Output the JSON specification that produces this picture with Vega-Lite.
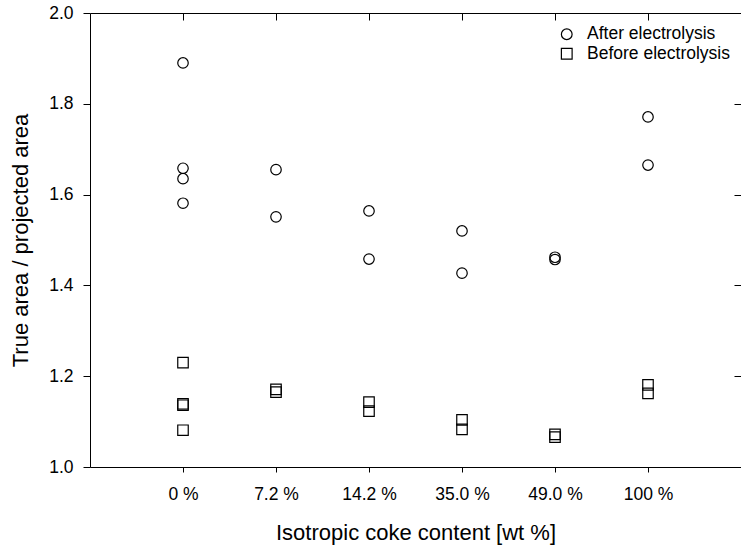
{
  "$schema": "https://vega.github.io/schema/vega-lite/v6.json",
  "width": 651,
  "height": 454,
  "autosize": {"type": "none"},
  "padding": {"left": 90, "top": 13, "right": 0, "bottom": 82},
  "background": "white",
  "config": {
    "view": {"stroke": null},
    "font": "Liberation Sans",
    "axis": {"domainColor": "black", "tickColor": "black", "domainWidth": 1, "tickWidth": 1, "grid": false, "labelColor": "black", "titleColor": "black", "labelFont": "Liberation Sans", "titleFont": "Liberation Sans", "titleFontWeight": "normal", "labelFontSize": 17.5, "titleFontSize": 22}
  },
  "data": {
    "values": [
      {"series": "After electrolysis", "content": "0 %", "value": 1.890},
      {"series": "After electrolysis", "content": "0 %", "value": 1.658},
      {"series": "After electrolysis", "content": "0 %", "value": 1.635},
      {"series": "After electrolysis", "content": "0 %", "value": 1.581},
      {"series": "After electrolysis", "content": "7.2 %", "value": 1.655},
      {"series": "After electrolysis", "content": "7.2 %", "value": 1.551},
      {"series": "After electrolysis", "content": "14.2 %", "value": 1.564},
      {"series": "After electrolysis", "content": "14.2 %", "value": 1.458},
      {"series": "After electrolysis", "content": "35.0 %", "value": 1.520},
      {"series": "After electrolysis", "content": "35.0 %", "value": 1.427},
      {"series": "After electrolysis", "content": "49.0 %", "value": 1.462},
      {"series": "After electrolysis", "content": "49.0 %", "value": 1.457},
      {"series": "After electrolysis", "content": "100 %", "value": 1.771},
      {"series": "After electrolysis", "content": "100 %", "value": 1.665},
      {"series": "Before electrolysis", "content": "0 %", "value": 1.230},
      {"series": "Before electrolysis", "content": "0 %", "value": 1.139},
      {"series": "Before electrolysis", "content": "0 %", "value": 1.136},
      {"series": "Before electrolysis", "content": "0 %", "value": 1.081},
      {"series": "Before electrolysis", "content": "7.2 %", "value": 1.171},
      {"series": "Before electrolysis", "content": "7.2 %", "value": 1.165},
      {"series": "Before electrolysis", "content": "14.2 %", "value": 1.143},
      {"series": "Before electrolysis", "content": "14.2 %", "value": 1.123},
      {"series": "Before electrolysis", "content": "35.0 %", "value": 1.104},
      {"series": "Before electrolysis", "content": "35.0 %", "value": 1.083},
      {"series": "Before electrolysis", "content": "49.0 %", "value": 1.072},
      {"series": "Before electrolysis", "content": "49.0 %", "value": 1.066},
      {"series": "Before electrolysis", "content": "100 %", "value": 1.181},
      {"series": "Before electrolysis", "content": "100 %", "value": 1.162}
    ]
  },
  "layer": [
    {
      "mark": {"type": "point", "filled": false, "strokeWidth": 1.2, "color": "black", "opacity": 1, "size": 110},
      "encoding": {
        "x": {
          "field": "content", "type": "nominal",
          "scale": {"type": "point", "padding": 1, "domain": ["0 %", "7.2 %", "14.2 %", "35.0 %", "49.0 %", "100 %"]},
          "sort": null,
          "axis": {"orient": "bottom", "title": "Isotropic coke content [wt %]", "labelAngle": 0, "tickSize": 5, "labelPadding": 13, "titleBaseline": "alphabetic", "titleY": 72}
        },
        "y": {
          "field": "value", "type": "quantitative",
          "scale": {"domain": [1, 2], "nice": false, "zero": false},
          "axis": {"orient": "left", "title": "True area / projected area", "values": [1, 1.2, 1.4, 1.6, 1.8, 2], "format": ".1f", "tickSize": 7, "labelPadding": 10, "titleBaseline": "alphabetic", "titleX": -63, "titleAngle": -90}
        },
        "shape": {
          "field": "series", "type": "nominal",
          "scale": {"domain": ["After electrolysis", "Before electrolysis"], "range": ["circle", "square"]},
          "legend": {"title": null, "orient": "none", "legendX": 468, "legendY": 12.5, "padding": 0, "symbolSize": 115, "symbolStrokeColor": "black", "symbolFillColor": "white", "symbolStrokeWidth": 1.2, "labelFontSize": 17.5, "labelFont": "Liberation Sans", "labelColor": "black", "labelOffset": 11.5, "rowPadding": 0.5}
        }
      }
    },
    {
      "mark": {"type": "point", "opacity": 0},
      "encoding": {
        "x": {
          "field": "content", "type": "nominal",
          "scale": {"type": "point", "padding": 1, "domain": ["0 %", "7.2 %", "14.2 %", "35.0 %", "49.0 %", "100 %"]},
          "sort": null,
          "axis": {"orient": "top", "title": null, "labels": false, "tickSize": -7}
        },
        "y": {
          "field": "value", "type": "quantitative",
          "scale": {"domain": [1, 2], "nice": false, "zero": false},
          "axis": {"orient": "right", "title": null, "labels": false, "values": [1, 1.2, 1.4, 1.6, 1.8, 2], "tickSize": -7}
        }
      }
    }
  ],
  "resolve": {"axis": {"x": "independent", "y": "independent"}}
}
